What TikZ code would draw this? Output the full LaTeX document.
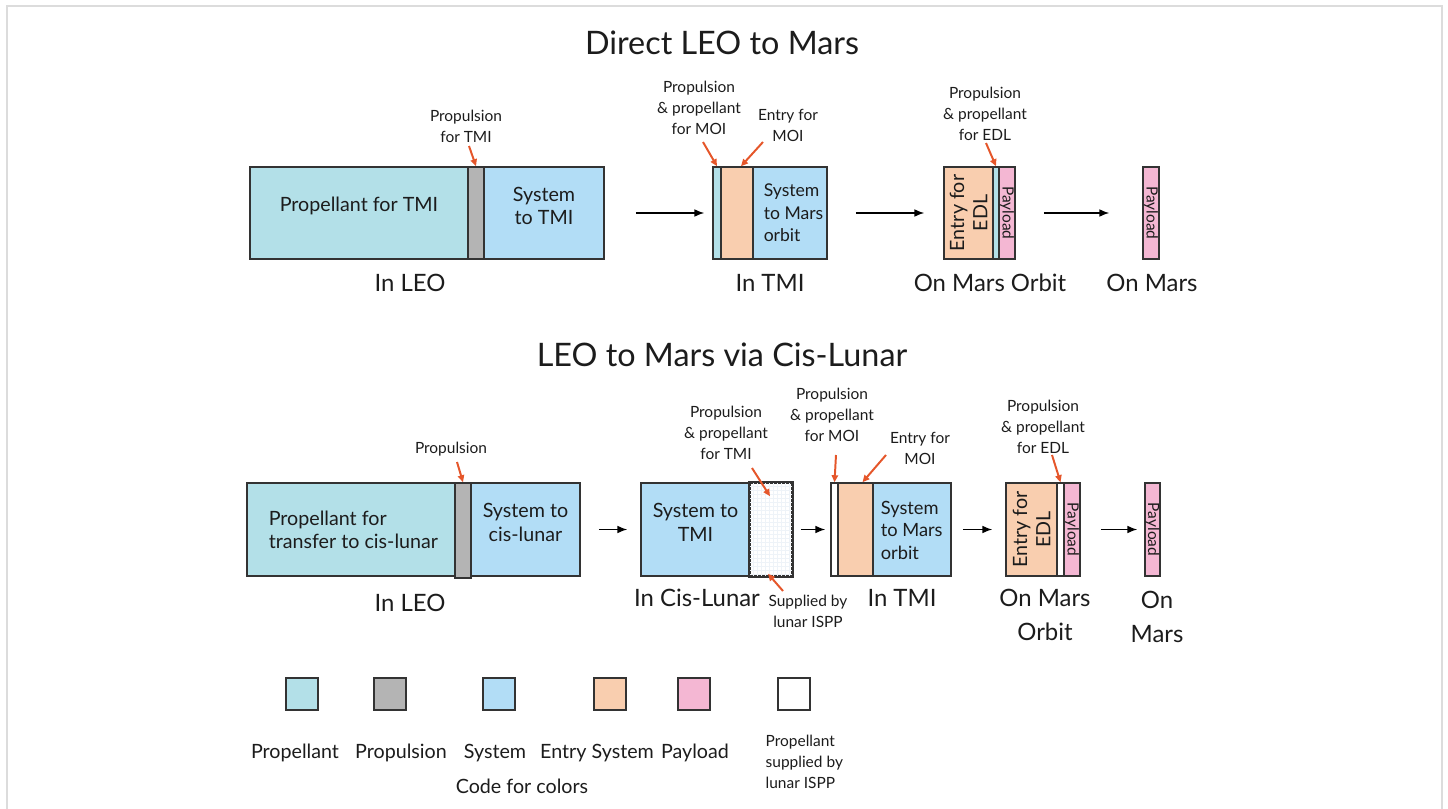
\documentclass[tikz,border=0pt]{standalone}
\usepackage{fontspec}
\setmainfont{Lato}
\usepackage{xcolor}
\usepackage{tikz}
\usetikzlibrary{arrows.meta,positioning,calc,fit}
\definecolor{propcyan}{HTML}{B3E0E8}
\definecolor{propgray}{HTML}{B4B4B4}
\definecolor{sysblue}{HTML}{B2DDF6}
\definecolor{entrypeach}{HTML}{F9CEAF}
\definecolor{paypink}{HTML}{F4B7D3}
\definecolor{calloutred}{HTML}{E5562A}
\definecolor{edgegray}{HTML}{333333}
\definecolor{inkdark}{HTML}{1C1C1C}
\definecolor{framegray}{HTML}{DCDCDC}
\definecolor{gridblue}{HTML}{EEF3F8}

\begin{document}
\begin{tikzpicture}[x=0.025cm,y=-0.025cm,node distance=0.3cm]
    \tikzstyle{part}=[draw=edgegray,line width=1.1pt,inner sep=0pt,align=center,font=\fontsize{14}{16.5}\selectfont,text=inkdark]
    \tikzstyle{vtext}=[font=\fontsize{11}{13.5}\selectfont,text=inkdark,align=center,inner sep=0pt]
    \tikzstyle{note}=[font=\fontsize{11}{15}\selectfont,text=inkdark,align=center,inner sep=1pt]
    \tikzstyle{stage}=[font=\fontsize{17}{24}\selectfont,text=inkdark,align=center,inner sep=1pt]
    \tikzstyle{heading}=[font=\fontsize{23}{27}\selectfont,text=inkdark]
    \tikzstyle{flow}=[draw=black,line width=0.9pt,-{Latex[length=7pt,width=5.5pt]}]
    \tikzstyle{callout}=[draw=calloutred,line width=1.4pt,-{Triangle[length=5pt,width=4.5pt]}]
    \tikzstyle{legend}=[draw=edgegray,line width=1.1pt,minimum size=0.8cm,inner sep=0pt]
    \tikzstyle{legtext}=[font=\fontsize{14}{16}\selectfont,text=inkdark]
    \useasboundingbox (0,0) rectangle (1448,809);
    \draw[framegray,line width=1.5pt] (7,809) -- (7,6) -- (1442,6) -- (1442,809);

    % direct route
    \node[heading] (ttla) at (722,43) {Direct LEO to Mars};
    \node[part,fill=propcyan,fit={(250,167) (468,259)}] (leoprop) {Propellant for TMI};
    \node[part,fill=propgray,fit={(468,167) (484,259)}] (leoprpl) {};
    \node[part,fill=sysblue,fit={(484,167) (604,259)}] (leosys) {System\\to TMI};
    \node[note] (lbltmi) at (466,126) {Propulsion\\for TMI};
    \node[stage] (stleo) at (410,283) {In LEO};

    \node[part,fill=propcyan,fit={(713,167) (721,259)}] (tmiprop) {};
    \node[part,fill=entrypeach,fit={(721,167) (753,259)}] (tmient) {};
    \node[part,fill=sysblue,fit={(753,167) (827,259)}] (tmisys) {};
    \node[part,draw=none,fill=none,anchor=west,align=left,font=\fontsize{12.5}{16}\selectfont] (tmitxt) at (763,213) {System\\to Mars\\orbit};
    \node[note] (lblmoi) at (699,108) {Propulsion\\\& propellant\\for MOI};
    \node[note] (lblent) at (788,125) {Entry for\\MOI};
    \node[stage] (sttmi) at (770,283) {In TMI};

    \node[part,fill=entrypeach,fit={(944,167) (993,259)}] (orbent) {};
    \node[part,fill=propcyan,fit={(993,167) (999,259)}] (orbprop) {};
    \node[part,fill=paypink,fit={(999,167) (1015,259)}] (orbpay) {};
    \node[vtext,font=\fontsize{14}{16.5}\selectfont,rotate=90] (orbtxt) at (orbent) {Entry for\\EDL};
    \node[vtext,rotate=-90] (orbpaytxt) at (orbpay) {Payload};
    \node[note] (lbledl) at (985,114) {Propulsion\\\& propellant\\for EDL};
    \node[stage] (storb) at (990,283) {On Mars Orbit};

    \node[part,fill=paypink,fit={(1143,167) (1159,259)}] (marspay) {};
    \node[vtext,rotate=-90] (marspaytxt) at (marspay) {Payload};
    \node[stage] (stmars) at (1152,283) {On Mars};

    \draw[flow] ($(leosys.east)+(31,0)$) -- ($(tmiprop.west)+(-8,0)$);
    \draw[flow] ($(tmisys.east)+(28,0)$) -- ($(orbent.west)+(-19,0)$);
    \draw[flow] ($(orbpay.east)+(28,0)$) -- ($(marspay.west)+(-33,0)$);
    \coordinate (ca) at (469,146);
    \coordinate (cb) at (703,142);
    \coordinate (cc) at (763,142);
    \coordinate (cd) at (986,143);
    \draw[callout] (ca) -- (leoprpl.north);
    \draw[callout] (cb) -- (tmiprop.north);
    \draw[callout] (cc) -- ($(tmient.north)+(4,0)$);
    \draw[callout] (cd) -- (orbprop.north);

    % route through cis-lunar space
    \node[heading] (ttlb) at (722,355) {LEO to Mars via Cis-Lunar};
    \node[part,fill=propcyan,fit={(247,483) (455,576)}] (cleoprop) {};
    \node[part,draw=none,fill=none,anchor=west,align=left] (cleotxt) at (268,530) {Propellant for\\transfer to cis-lunar};
    \node[part,fill=propgray,fit={(455,483) (471,578)}] (cleoprpl) {};
    \node[part,fill=sysblue,fit={(471,483) (580,576)}] (cleosys) {System to\\cis-lunar};
    \node[note] (lblprpl) at (451,449) {Propulsion};
    \node[stage] (scleo) at (410,603) {In LEO};

    \node[part,fill=sysblue,fit={(641,483) (750,576)}] (cissys) {System to\\TMI};
    \node[part,fill=white,fit={(750,483) (792,576)}] (cisisp) {};
    \foreach \g in {4,8,...,40}
        \draw[gridblue,line width=0.3pt] ($(cisisp.north west)+(\g,1)$) -- ($(cisisp.south west)+(\g,-1)$);
    \foreach \g in {4,8,...,92}
        \draw[gridblue,line width=0.3pt] ($(cisisp.north west)+(1,\g)$) -- ($(cisisp.north east)+(-1,\g)$);
    \draw[edgegray,line width=1.1pt] (cisisp.north west) rectangle (cisisp.south east);
    \node[note] (lblcis) at (726,433) {Propulsion\\\& propellant\\for TMI};
    \node[note] (lblisp) at (808,611) {Supplied by\\lunar ISPP};
    \node[stage] (sccis) at (697,598) {In Cis-Lunar};

    \node[part,fill=white,fit={(831,483) (838,576)}] (ctmiisp) {};
    \node[part,fill=entrypeach,fit={(838,483) (873,576)}] (ctmient) {};
    \node[part,fill=sysblue,fit={(873,483) (951,576)}] (ctmisys) {};
    \node[part,draw=none,fill=none,anchor=west,align=left,font=\fontsize{13}{16}\selectfont] (ctmitxt) at (880,530) {System\\to Mars\\orbit};
    \node[note] (lblcmoi) at (832,415) {Propulsion\\\& propellant\\for MOI};
    \node[note] (lblcent) at (920,448) {Entry for\\MOI};
    \node[stage] (sctmi) at (902,598) {In TMI};

    \node[part,fill=entrypeach,fit={(1006,483) (1057,576)}] (corbent) {};
    \node[part,fill=white,fit={(1057,483) (1064,576)}] (corbisp) {};
    \node[part,fill=paypink,fit={(1064,483) (1080,576)}] (corbpay) {};
    \node[vtext,font=\fontsize{14}{16.5}\selectfont,rotate=90] (corbtxt) at (corbent) {Entry for\\EDL};
    \node[vtext,rotate=-90] (corbpaytxt) at (corbpay) {Payload};
    \node[note] (lblcedl) at (1043,427) {Propulsion\\\& propellant\\for EDL};
    \node[stage] (scorb) at (1045,615) {On Mars\\Orbit};

    \node[part,fill=paypink,fit={(1145,483) (1160,576)}] (cmarspay) {};
    \node[vtext,rotate=-90] (cmarspaytxt) at (cmarspay) {Payload};
    \node[stage] (scmars) at (1157,617) {On\\Mars};

    \draw[flow] ($(cleosys.east)+(18,0)$) -- ($(cissys.west)+(-13,0)$);
    \draw[flow] ($(cisisp.east)+(8,0)$) -- ($(ctmiisp.west)+(-5,0)$);
    \draw[flow] ($(ctmisys.east)+(11,0)$) -- ($(corbent.west)+(-13,0)$);
    \draw[flow] ($(corbpay.east)+(20,0)$) -- ($(cmarspay.west)+(-7,0)$);
    \coordinate (ce) at (457,462);
    \coordinate (cf) at (752,468);
    \coordinate (cg) at (783,591);
    \coordinate (ch) at (836,455);
    \coordinate (ci) at (886,455);
    \coordinate (cj) at (1052,455);
    \draw[callout] (ce) -- (cleoprpl.north);
    \draw[callout] (cf) -- ($(cisisp.north)+(-1,14)$);
    \draw[callout] (cg) -- ($(cisisp.south)+(-3,-3)$);
    \draw[callout] (ch) -- (ctmiisp.north);
    \draw[callout] (ci) -- ($(ctmient.north)+(7,0)$);
    \draw[callout] (cj) -- (corbisp.north);

    % colour key
    \node[legend,fill=propcyan] (kprop) at (302,694) {};
    \node[legend,fill=propgray] (kprpl) at (390,694) {};
    \node[legend,fill=sysblue] (ksys) at (499,694) {};
    \node[legend,fill=entrypeach] (kent) at (610,694) {};
    \node[legend,fill=paypink] (kpay) at (694,694) {};
    \node[legend,fill=white] (kisp) at (794,694) {};
    \node[legtext] (tprop) at (295,753) {Propellant};
    \node[legtext] (tprpl) at (401,753) {Propulsion};
    \node[legtext] (tsys) at (495,753) {System};
    \node[legtext] (tent) at (597,753) {Entry System};
    \node[legtext] (tpay) at (695,753) {Payload};
    \node[legtext] (tcode) at (522,786) {Code for colors};
    \node[note,anchor=west,align=left] (tisp) at (764,762) {Propellant\\supplied by\\lunar ISPP};
\end{tikzpicture}
\end{document}
